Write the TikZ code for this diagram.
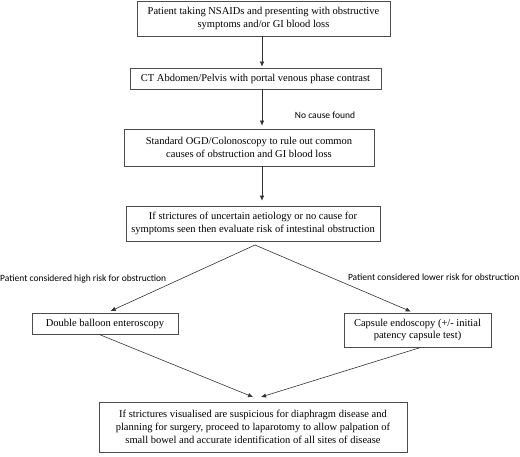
\documentclass[tikz,border=0pt]{standalone}
\usepackage{fontspec}
\setmainfont{Liberation Serif}
\newfontfamily\lblfont{Carlito}
\usetikzlibrary{arrows.meta}
\begin{document}
\begin{tikzpicture}[x=1pt,y=-1pt,
  box/.style={draw=black!70, line width=0.7pt, align=center, inner sep=0pt,
    font=\fontsize{10.5}{12.8}\selectfont},
  arr/.style={draw=black!80, line width=0.6pt, -{Latex[length=5pt,width=4.5pt]}},
  lbl/.style={font=\lblfont\fontsize{9.5}{11}\selectfont, inner sep=0pt}]
\useasboundingbox (0,0) rectangle (520,456);

\node[box, minimum width=253pt, minimum height=35pt] (n1) at (263.5,18.5)
  {Patient taking NSAIDs and presenting with obstructive\\symptoms and/or GI blood loss};
\node[box, minimum width=251pt, minimum height=21pt] (n2) at (255.5,78.5)
  {CT Abdomen/Pelvis with portal venous phase contrast};
\node[box, minimum width=250pt, minimum height=37pt] (n3) at (249,147.5)
  {Standard OGD/Colonoscopy to rule out common\\causes of obstruction and GI blood loss};
\node[box, minimum width=254pt, minimum height=35pt] (n4) at (253,223.5)
  {If strictures of uncertain aetiology or no cause for\\symptoms seen then evaluate risk of intestinal obstruction};
\node[box, minimum width=146pt, minimum height=21pt] (n5) at (105,323.5)
  {Double balloon enteroscopy};
\node[box, minimum width=147pt, minimum height=34pt] (n6) at (417.5,330)
  {Capsule endoscopy (+/- initial\\patency capsule test)};
\node[box, minimum width=308pt, minimum height=50pt] (n7) at (253,427)
  {If strictures visualised are suspicious for diaphragm disease and\\planning for surgery, proceed to laparotomy to allow palpation of\\small bowel and accurate identification of all sites of disease};

\node[lbl] (l1) at (325,115) {No cause found};
\node[lbl, anchor=west] (l2) at (0,279) {Patient considered high risk for obstruction};
\node[lbl, anchor=east] (l3) at (519.5,277) {Patient considered lower risk for obstruction};

\coordinate (ax) at (262,0);
\coordinate (apex) at (255,245);
\coordinate (mL) at (253,397);
\coordinate (mR) at (261,397);

\draw[arr, shorten >=1pt] (n1.south -| ax) -- (n2.north -| ax);
\draw[arr, shorten >=3pt] (n2.south -| ax) -- (n3.north -| ax);
\draw[arr, shorten >=5pt] (n3.south -| ax) -- (n4.north -| ax);
\draw[arr, shorten >=4pt] (apex) -- ([xshift=2pt]n5.north);
\draw[arr, shorten >=3pt] (apex) -- ([xshift=-4pt]n6.north);
\draw[arr] ([xshift=-6pt]n5.south) -- (mL);
\draw[arr] ([xshift=3.5pt]n6.south) -- (mR);
\end{tikzpicture}
\end{document}
